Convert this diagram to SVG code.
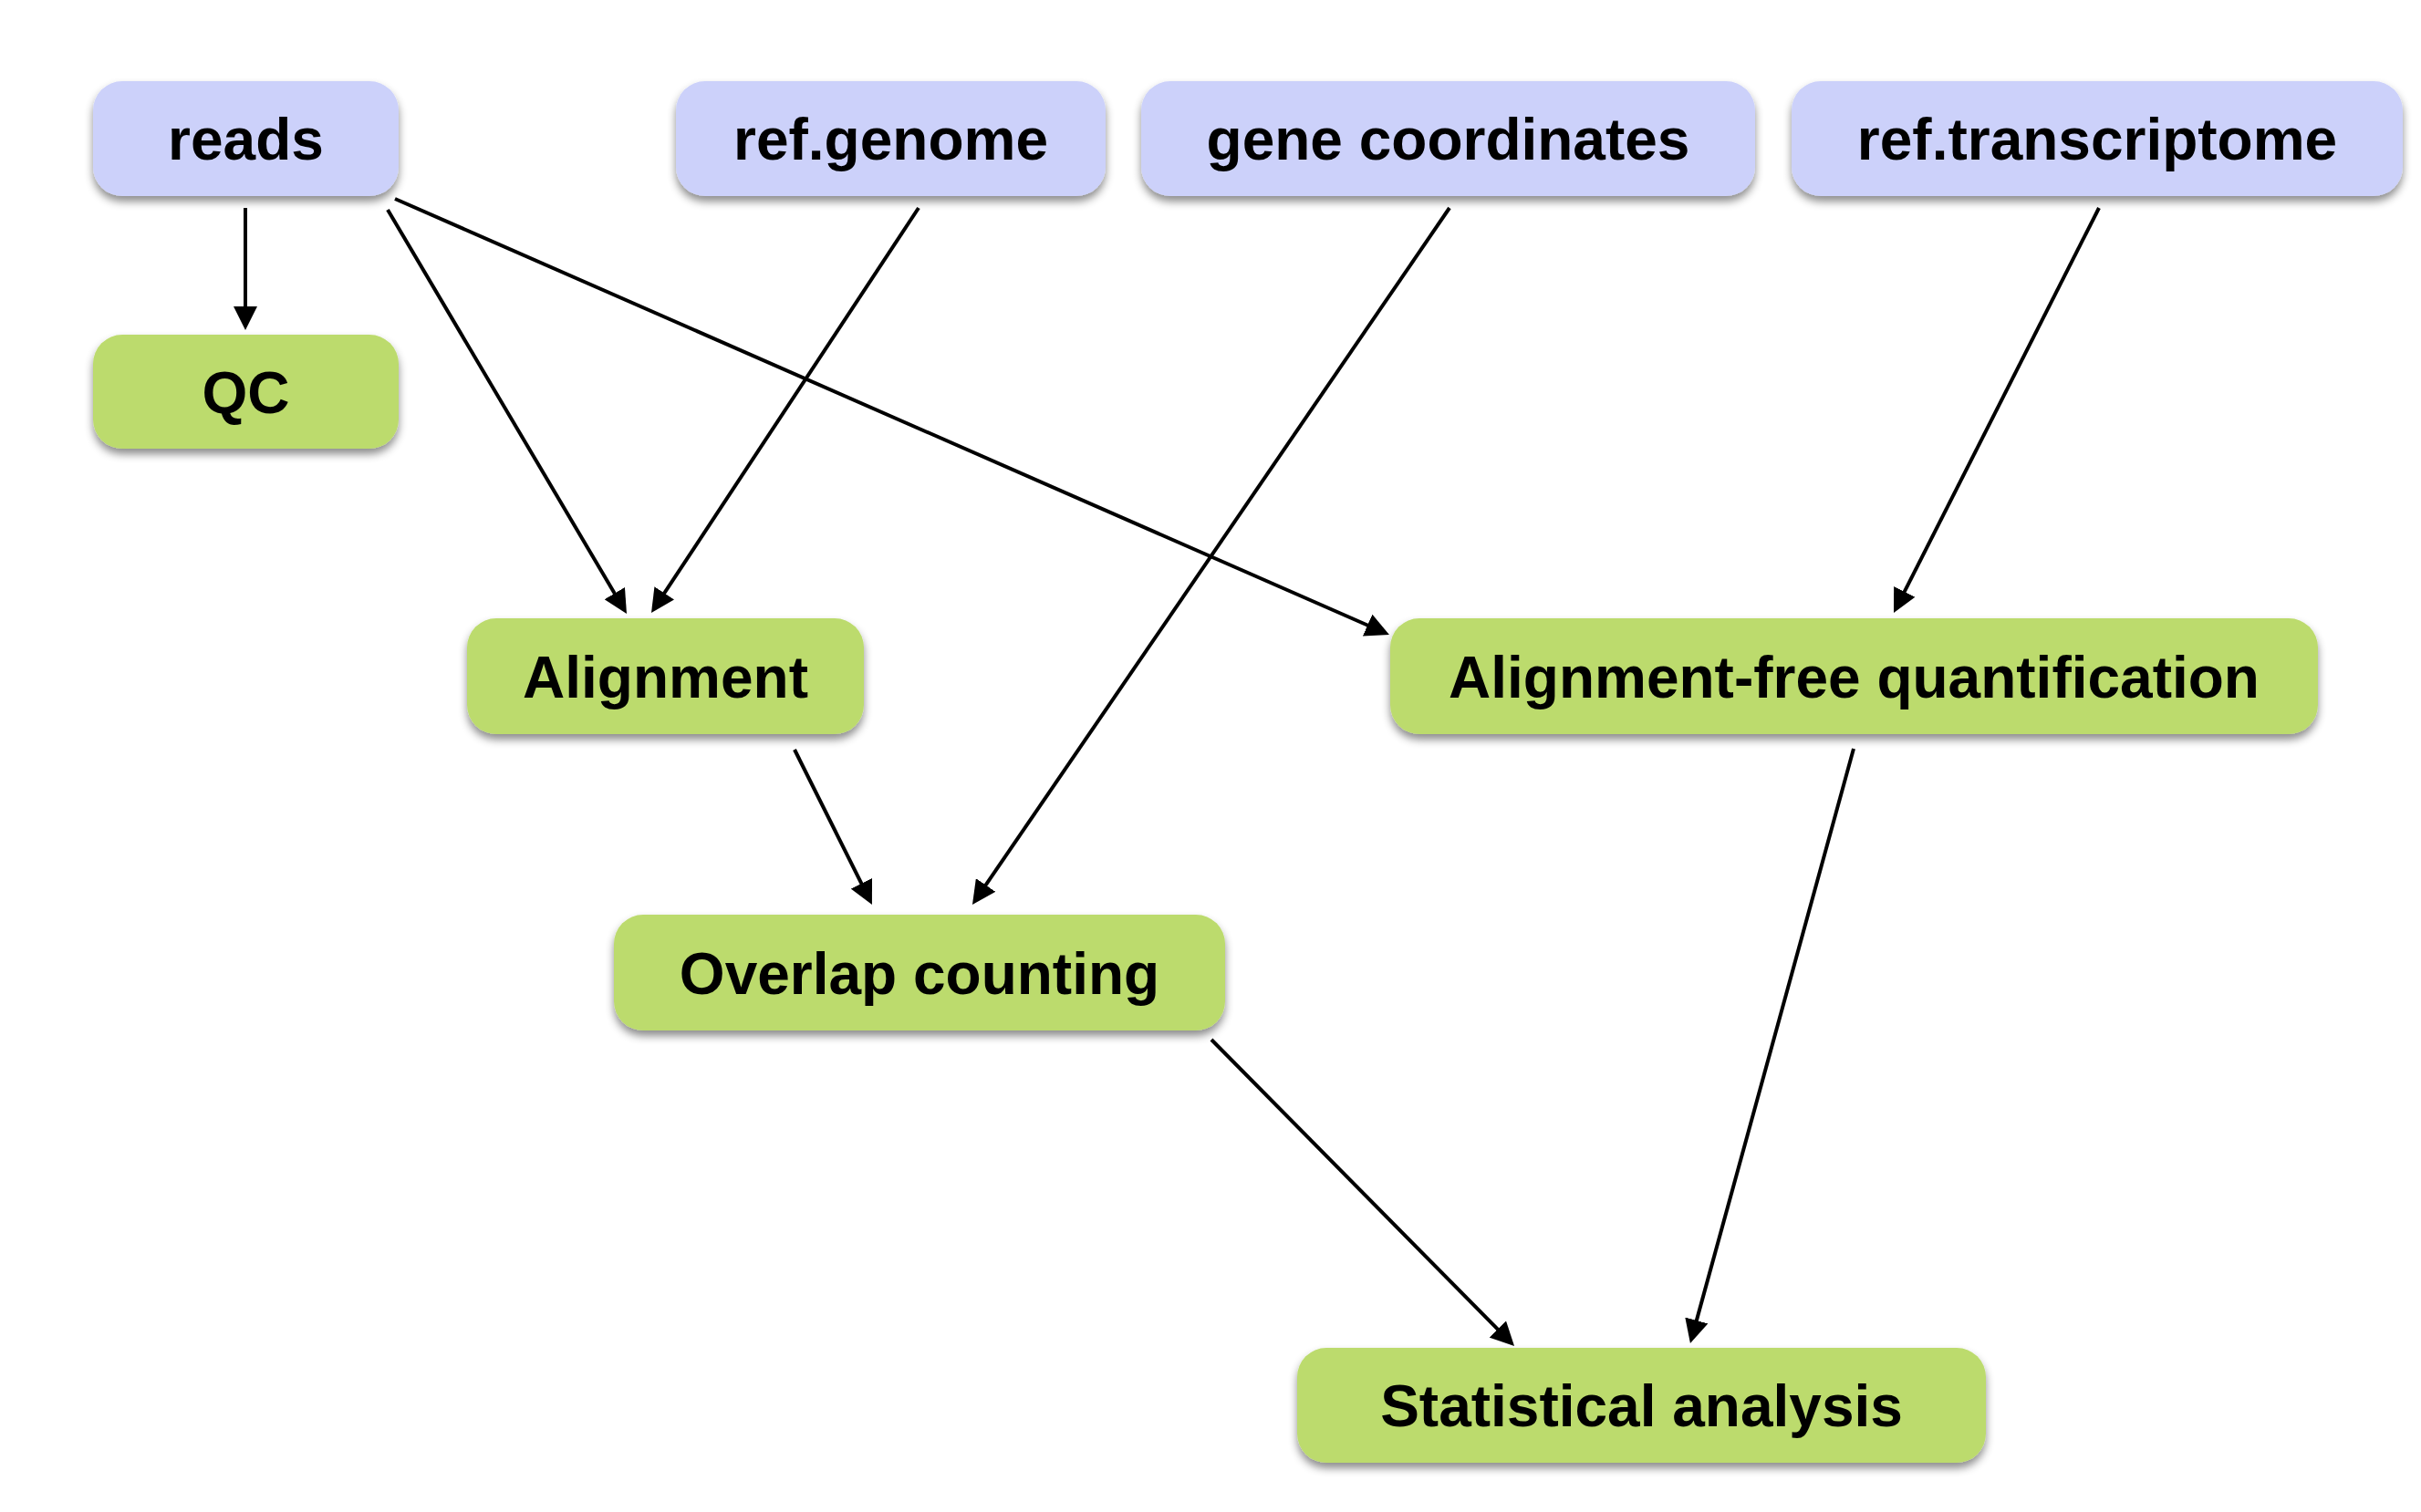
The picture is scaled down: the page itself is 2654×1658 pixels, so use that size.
<svg xmlns="http://www.w3.org/2000/svg" width="2654" height="1658" viewBox="0 0 2654 1658">
<defs>
<filter id="sh" x="-10%" y="-20%" width="120%" height="160%">
<feDropShadow dx="0" dy="6" stdDeviation="5" flood-color="#000" flood-opacity="0.45"/>
</filter>
<marker id="ah" viewBox="0 0 26 26" refX="16" refY="13" markerWidth="26" markerHeight="26" markerUnits="userSpaceOnUse" orient="auto">
<path d="M0,0 L26,13 L0,26 z" fill="#000"/>
</marker>
</defs>
<style>
.in rect{fill:#ccd1fa;filter:url(#sh)}
.pr rect{fill:#bcdb6d;filter:url(#sh)}
text{font-family:"Liberation Sans",Arial,Helvetica,sans-serif;font-weight:bold;font-size:64px;fill:#000;text-anchor:middle}
#edges line{stroke:#000;stroke-width:4;fill:none;marker-end:url(#ah)}
</style>
<rect width="2654" height="1658" fill="#fff"/>
<g id="edges">
<line x1="269" y1="228" x2="269" y2="352"/>
<line x1="425" y1="230" x2="681.9" y2="664.4"/>
<line x1="433" y1="218" x2="1513.8" y2="692"/>
<line x1="1007" y1="228" x2="719.5" y2="663.7"/>
<line x1="1589" y1="228" x2="1071.6" y2="983.7"/>
<line x1="2301" y1="228" x2="2080.5" y2="663.1"/>
<line x1="871" y1="822" x2="951.5" y2="983.1"/>
<line x1="2032" y1="821" x2="1855.6" y2="1463.4"/>
<line x1="1328" y1="1140" x2="1653" y2="1468.9"/>
</g>
<g id="reads" class="in"><rect x="102" y="89" width="335" height="126" rx="32"/><text x="269.5" y="175">reads</text></g>
<g id="refgenome" class="in"><rect x="741" y="89" width="471" height="126" rx="32"/><text x="976.5" y="175">ref.genome</text></g>
<g id="genecoords" class="in"><rect x="1251" y="89" width="673" height="126" rx="32"/><text x="1587.5" y="175">gene coordinates</text></g>
<g id="reftranscriptome" class="in"><rect x="1964" y="89" width="670" height="126" rx="32"/><text x="2299" y="175">ref.transcriptome</text></g>
<g id="qc" class="pr"><rect x="102" y="367" width="335" height="125" rx="32"/><text x="269.5" y="453">QC</text></g>
<g id="alignment" class="pr"><rect x="512" y="678" width="435" height="127" rx="32"/><text x="729.5" y="765">Alignment</text></g>
<g id="alignfree" class="pr"><rect x="1524" y="678" width="1017" height="127" rx="32"/><text x="2032.5" y="765">Alignment-free quantification</text></g>
<g id="overlap" class="pr"><rect x="673" y="1003" width="670" height="127" rx="32"/><text x="1008" y="1090">Overlap counting</text></g>
<g id="stats" class="pr"><rect x="1422" y="1478" width="755" height="126" rx="32"/><text x="1799.5" y="1564">Statistical analysis</text></g>
</svg>
